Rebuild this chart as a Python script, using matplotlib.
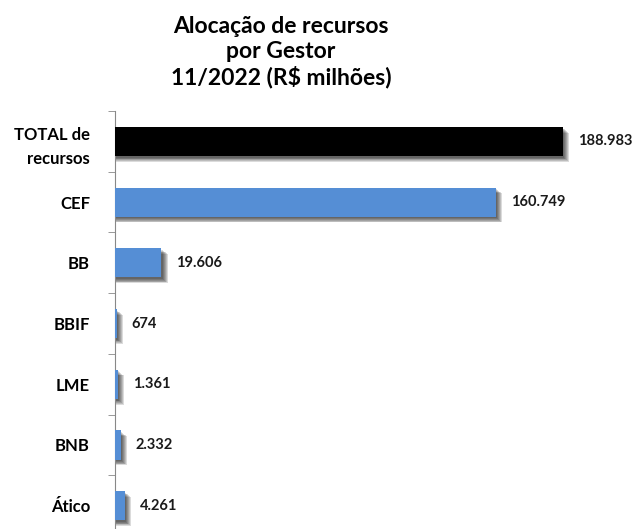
import numpy as np
import matplotlib
matplotlib.use("Agg")
from matplotlib import pyplot as plt

# Data (R$ milhões, 11/2022)
gestores = ["TOTAL de\nrecursos", "CEF", "BB", "BBIF", "LME", "BNB", "Ático"]
valores = [188983, 160749, 19606, 674, 1361, 2332, 4261]
rotulos = ["188.983", "160.749", "19.606", "674", "1.361", "2.332", "4.261"]
cores = ["#000000", "#558ED5", "#558ED5", "#558ED5", "#558ED5", "#558ED5", "#558ED5"]

plt.rcParams["font.family"] = ["Lato", "DejaVu Sans"]

W, H = 637, 529
fig = plt.figure(figsize=(W / 100, H / 100), dpi=100)
ax_left, ax_right = 115, 632
ax_top, ax_bottom = 111, 536
ax = fig.add_axes([ax_left / W, (H - ax_bottom) / H,
                   (ax_right - ax_left) / W, (ax_bottom - ax_top) / H])

y = np.arange(len(gestores))
xmax = 188983 * (ax_right - ax_left) / 448.0

# soft drop shadow under each bar
for k in range(6):
    off = 0.03 + 0.013 * k
    ax.barh(y + off, np.array(valores) + xmax * 0.002 * (k + 1), height=0.48,
            color="black", alpha=0.14, linewidth=0, zorder=1)

ax.barh(y, valores, height=0.48, color=cores, linewidth=0, zorder=3)

for yi, v, lab in zip(y, valores, rotulos):
    ax.annotate(lab, (v, yi), xytext=(10.5, 0), textcoords="offset points",
                va="center", ha="left", fontsize=10.5, fontweight="bold",
                color="#1a1a1a")

ax.set_xlim(0, xmax)
ax.set_ylim(len(gestores) - 0.5, -0.5)
ax.set_yticks(y)
ax.set_yticklabels(gestores, fontsize=12, fontweight="bold", linespacing=1.65)
ax.set_yticks(np.arange(len(gestores) + 1) - 0.5, minor=True)
ax.tick_params(axis="y", which="major", length=0, pad=18)
ax.tick_params(axis="y", which="minor", length=5, color="#888888", direction="out")
ax.set_xticks([])
for s in ["top", "right", "bottom"]:
    ax.spines[s].set_visible(False)
ax.spines["left"].set_color("#888888")

fig.text(281 / W, 1 - 52 / H, "Alocação de recursos\npor Gestor\n11/2022 (R$ milhões)",
         ha="center", va="center", fontsize=16.5, fontweight="bold", linespacing=1.2)

fig.savefig("out.png", dpi=100)
